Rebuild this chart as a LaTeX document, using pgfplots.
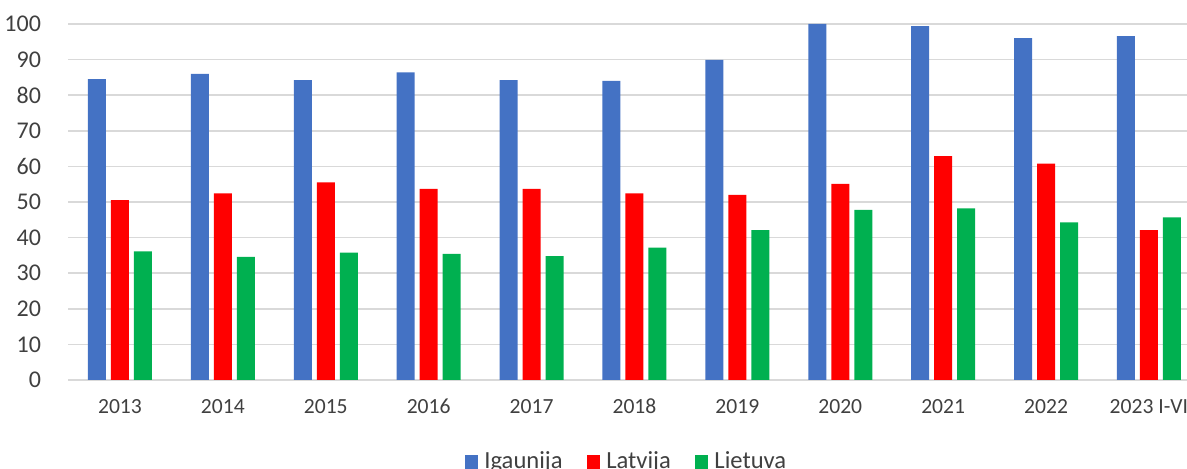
\documentclass[border=0pt]{standalone}
\usepackage{pgfplots}
\pgfplotsset{compat=1.18}
\usepackage{fontspec}
\setmainfont{Carlito}
\definecolor{cblue}{HTML}{4472C4}
\definecolor{cred}{HTML}{FF0000}
\definecolor{cgreen}{HTML}{00B050}
\definecolor{ctext}{HTML}{404040}
\definecolor{cgrid}{HTML}{D9D9D9}
\begin{document}
\begin{tikzpicture}
\begin{axis}[
  name=ax,
  scale only axis,
  width=559.5pt, height=178pt,
  ybar, bar width=9pt,
  ymin=0, ymax=100, ytick={0,10,...,100},
  xmin=-0.505, xmax=10.37,
  xtick={0,...,10},
  xticklabels={2013,2014,2015,2016,2017,2018,2019,2020,2021,2022,2023 I-VI},
  axis x line*=bottom, axis y line*=left,
  x axis line style={draw=cgrid, line width=0.8pt},
  y axis line style={draw=none},
  ymajorgrids, grid style={draw=cgrid, line width=0.8pt},
  major tick length=0pt,
  tick label style={font=\fontsize{10.8}{12}\selectfont, text=ctext},
  yticklabel style={font=\fontsize{12}{14}\selectfont},
  /pgf/number format/assume math mode=true,
  yticklabel style={xshift=-10pt},
  xticklabel style={yshift=-6pt},
  legend style={at={(0.5,-0.23)}, anchor=center, draw=none, legend columns=-1,
    font=\fontsize{12.3}{14}\selectfont, text=ctext,
    /tikz/every odd column/.append style={column sep=1pt},
    /tikz/every even column/.append style={column sep=10pt}},
  legend image code/.code={\fill[#1] (0pt,-3.4pt) rectangle (6.8pt,3.4pt);},
  clip=false,
]
\addplot[fill=cblue, draw=none, bar shift=-11.5pt] coordinates {
(0,84.5) (1,86.0) (2,84.2) (3,86.4) (4,84.2) (5,84.0) (6,89.9) (7,100.0) (8,99.4) (9,96.0) (10,96.6)};
\addplot[fill=cred, draw=none, bar shift=0pt] coordinates {
(0,50.5) (1,52.4) (2,55.5) (3,53.7) (4,53.7) (5,52.4) (6,52.0) (7,55.1) (8,62.9) (9,60.8) (10,42.1)};
\addplot[fill=cgreen, draw=none, bar shift=11.5pt] coordinates {
(0,36.1) (1,34.6) (2,35.8) (3,35.4) (4,34.8) (5,37.2) (6,42.1) (7,47.8) (8,48.2) (9,44.3) (10,45.7)};
\legend{Igaunija, Latvija, Lietuva}
\end{axis}
\pgfresetboundingbox
\path[use as bounding box] ([xshift=-34pt,yshift=-44.5pt]ax.south west) rectangle ([yshift=12pt]ax.north east);
\end{tikzpicture}
\end{document}
